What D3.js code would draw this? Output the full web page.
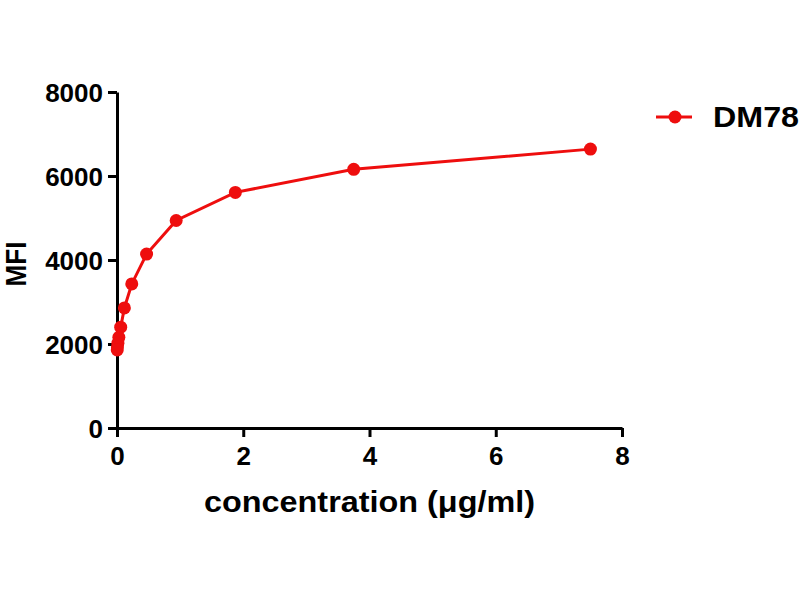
<!DOCTYPE html>
<html>
<head>
<meta charset="utf-8">
<script src="https://cdn.jsdelivr.net/npm/d3@7"></script>
<style>
  html, body { margin: 0; padding: 0; background: #fff; overflow: hidden; }
  svg { display: block; font-family: "Liberation Sans", Arial, sans-serif; font-weight: bold; }
</style>
</head>
<body>
<div id="app"></div>
<script>
// data
const seriesName = 'DM78'
const concentration = [7.5, 3.75, 1.875, 0.9375, 0.46875, 0.234, 0.117, 0.0586, 0.0293, 0.0146, 0.0073, 0.0037]
const mfi = [6640, 6160, 5610, 4940, 4140, 3430, 2860, 2400, 2160, 2020, 1930, 1860]
const xTicks = [0, 2, 4, 6, 8]
const yTicks = [0, 2000, 4000, 6000, 8000]

const red = '#ee0e0e'
const width = 800
const height = 600
const margin = { top: 92, left: 117, right: 178, bottom: 172 }

const svg = d3.select('#app')
  .append('svg')
  .attr('width', width)
  .attr('height', height)

const xScale = d3.scaleLinear()
  .domain([0, 8])
  .range([margin.left, width - margin.right])
const yScale = d3.scaleLinear()
  .domain([0, 8000])
  .range([height - margin.bottom, margin.top])

// 坐标轴
const xAxis = d3.axisBottom(xScale)
  .tickValues(xTicks)
  .tickFormat(d3.format('d'))
  .tickSize(9)
  .tickPadding(10)
  .tickSizeOuter(0)
const yAxis = d3.axisLeft(yScale)
  .tickValues(yTicks)
  .tickFormat(d3.format('d'))
  .tickSize(9)
  .tickPadding(5)
  .tickSizeOuter(0)

const gx = svg.append('g')
  .attr('transform', `translate(0, ${yScale(0)})`)
  .call(xAxis)
const gy = svg.append('g')
  .attr('transform', `translate(${xScale(0)}, 0)`)
  .call(yAxis)

;[gx, gy].forEach(g => {
  g.select('.domain').attr('stroke', '#000').attr('stroke-width', 3)
  g.selectAll('.tick line').attr('stroke', '#000').attr('stroke-width', 3)
  g.selectAll('.tick text')
    .attr('fill', '#000')
    .attr('font-size', 26)
    .attr('font-weight', 'bold')
    .attr('font-family', '"Liberation Sans", Arial, sans-serif')
})
gy.selectAll('.tick text').attr('dy', '0.36em')

// 轴标题
svg.append('text')
  .attr('x', (xScale(0) + xScale(8)) / 2)
  .attr('y', 512)
  .attr('text-anchor', 'middle')
  .attr('font-size', 29)
  .attr('textLength', 331)
  .attr('lengthAdjust', 'spacingAndGlyphs')
  .text('concentration (\u03bcg/ml)')
svg.append('text')
  .attr('transform', `translate(26, ${yScale(4000) + 4}) rotate(-90)`)
  .attr('text-anchor', 'middle')
  .attr('font-size', 29)
  .attr('textLength', 45)
  .attr('lengthAdjust', 'spacingAndGlyphs')
  .text('MFI')

// 折线 + 点
const points = concentration.map((c, i) => ({ x: c, y: mfi[i] }))
const line = d3.line()
  .x(d => xScale(d.x))
  .y(d => yScale(d.y))
svg.append('path')
  .datum(points)
  .attr('fill', 'none')
  .attr('stroke', red)
  .attr('stroke-width', 3)
  .attr('d', line)
svg.append('g')
  .selectAll('circle')
  .data(points)
  .enter()
  .append('circle')
  .attr('cx', d => xScale(d.x))
  .attr('cy', d => yScale(d.y))
  .attr('r', 6.5)
  .attr('fill', red)

// 图例
const lg = svg.append('g')
  .attr('transform', 'translate(656, 117)')
lg.append('line')
  .attr('x1', 0)
  .attr('x2', 36)
  .attr('stroke', red)
  .attr('stroke-width', 3)
lg.append('circle')
  .attr('cx', 19)
  .attr('r', 6.5)
  .attr('fill', red)
lg.append('text')
  .attr('x', 57)
  .attr('dy', '0.36em')
  .attr('font-size', 29)
  .attr('textLength', 86)
  .attr('lengthAdjust', 'spacingAndGlyphs')
  .text(seriesName)
</script>
</body>
</html>
